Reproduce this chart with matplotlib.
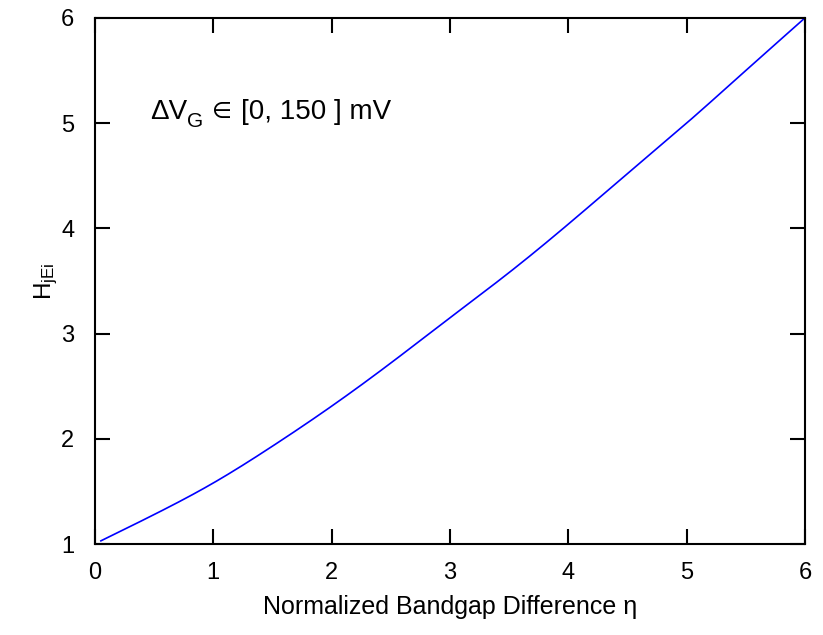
import matplotlib
matplotlib.use("Agg")
import matplotlib.pyplot as plt
from matplotlib.transforms import IdentityTransform
import numpy as np

plt.rcParams['font.family'] = ['Liberation Sans', 'DejaVu Sans']
plt.rcParams['mathtext.fontset'] = 'custom'
plt.rcParams['mathtext.rm'] = 'Liberation Sans'
plt.rcParams['mathtext.it'] = 'Liberation Sans'
plt.rcParams['mathtext.bf'] = 'Liberation Sans:bold'

eta = [0.05, 0.5, 1.0, 1.5, 2.0, 2.5, 3.0, 3.5, 4.0, 4.5, 5.0, 5.5, 6.0]
h_jei = [1.03, 1.28, 1.58, 1.93, 2.31, 2.72, 3.15, 3.58, 4.04, 4.52, 5.0, 5.5, 6.0]

xticks = [0, 1, 2, 3, 4, 5, 6]
yticks = [1, 2, 3, 4, 5, 6]

def smooth(xs, ys, n=300):
    xs = np.asarray(xs); ys = np.asarray(ys)
    xx = np.linspace(xs[0], xs[-1], n)
    h = np.diff(xs)
    m = len(xs)
    A = np.zeros((m, m)); b = np.zeros(m)
    A[0, 0] = A[-1, -1] = 1
    for i in range(1, m - 1):
        A[i, i - 1] = h[i - 1]; A[i, i] = 2 * (h[i - 1] + h[i]); A[i, i + 1] = h[i]
        b[i] = 6 * ((ys[i + 1] - ys[i]) / h[i] - (ys[i] - ys[i - 1]) / h[i - 1])
    M = np.linalg.solve(A, b)
    idx = np.clip(np.searchsorted(xs, xx) - 1, 0, m - 2)
    x0 = xs[idx]; x1 = xs[idx + 1]; hh = x1 - x0
    t0 = x1 - xx; t1 = xx - x0
    yy = (M[idx] * t0**3 + M[idx + 1] * t1**3) / (6 * hh) \
        + (ys[idx] / hh - M[idx] * hh / 6) * t0 + (ys[idx + 1] / hh - M[idx + 1] * hh / 6) * t1
    return xx, yy

fig = plt.figure(figsize=(8.23, 6.35), dpi=100)
ax = fig.add_axes([0.1154, 0.1433, 0.8626, 0.8284])
xx, yy = smooth(eta, h_jei)
ax.plot(xx, yy, color='#0000ff', lw=1.2)

ax.set_xlim(0, 6)
ax.set_ylim(1, 6)
ax.set_xticks(xticks)
ax.set_yticks(yticks)
ax.tick_params(direction='in', length=11, width=1.5, top=True, right=True,
               labelsize=17)
ax.tick_params(axis='x', pad=13)
ax.tick_params(axis='y', pad=15)
for s in ax.spines.values():
    s.set_linewidth(1.5)

ax.set_xlabel('Normalized Bandgap Difference η', fontsize=18, labelpad=8)
ax.set_ylabel(r'H$_\mathrm{jEi}$', fontsize=17.5, labelpad=1)

# annotation built from pieces (main text, subscript, element sign, rest)
ax_x, ax_y = 0.0775, 0.808
t1 = ax.text(ax_x, ax_y, 'ΔV', transform=ax.transAxes,
             fontsize=20, ha='left', va='baseline')
fig.canvas.draw()
r = fig.canvas.get_renderer()
bx, by = ax.transAxes.transform((ax_x, ax_y))
bb1 = t1.get_window_extent(r)
t2 = fig.text(bb1.x1, by - 8, 'G', transform=IdentityTransform(),
              fontsize=15, ha='left', va='baseline')
bb2 = t2.get_window_extent(r)
t3 = fig.text(bb2.x1 + 8, by + 0.5, '∈', transform=IdentityTransform(),
              fontsize=16.5, ha='left', va='baseline', family='DejaVu Sans')
bb3 = t3.get_window_extent(r)
t4 = fig.text(bb3.x1 + 10, by, '[0, 150 ] mV', transform=IdentityTransform(),
              fontsize=20, ha='left', va='baseline')

fig.savefig('out.png', dpi=100)
